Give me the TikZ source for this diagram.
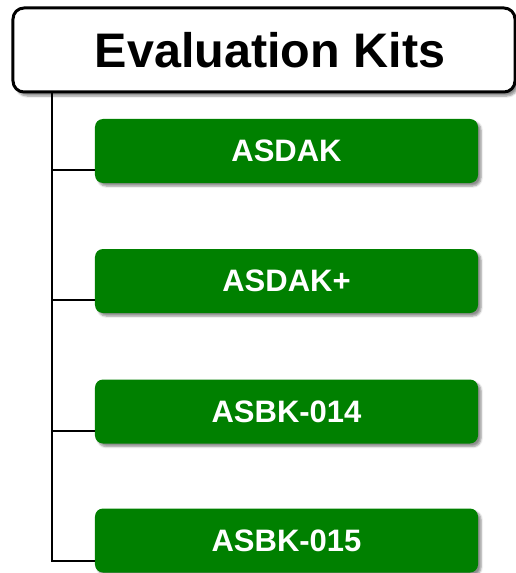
\documentclass[tikz,border=0pt]{standalone}
\usepackage{fontspec}
\setmainfont{Liberation Sans}
\usetikzlibrary{shadows.blur}
\definecolor{kitgreen}{RGB}{0,128,0}
\begin{document}
\begin{tikzpicture}[x=1bp,y=-1bp,
  titlebox/.style={draw=black,line width=3bp,fill=white,rounded corners=11bp,
    minimum width=502bp,minimum height=84bp,inner sep=0pt,
    font=\fontsize{48.5bp}{52bp}\selectfont\bfseries,
    blur shadow={shadow xshift=3bp,shadow yshift=-4bp,shadow blur steps=6,shadow opacity=45}},
  kitbox/.style={fill=kitgreen,draw=none,rounded corners=8bp,
    minimum width=383bp,minimum height=64bp,inner sep=0pt,text=white,
    font=\fontsize{31bp}{34bp}\selectfont\bfseries,
    blur shadow={shadow xshift=3bp,shadow yshift=-3bp,shadow blur steps=5,shadow opacity=45}},
  conn/.style={draw=black,line width=2bp}]
\useasboundingbox (0,0) rectangle (516,573);
\node[titlebox] (top) at (264,50) {\hspace*{12bp}Evaluation Kits};
\node[kitbox] (b1) at (286.5,151) {ASDAK};
\node[kitbox] (b2) at (286.5,281) {ASDAK+};
\node[kitbox] (b3) at (286.5,411.5) {ASBK-014};
\node[kitbox] (b4) at (286.5,540.5) {ASBK-015};
\coordinate (t0) at ([xshift=41bp,yshift=1.5bp]top.south west);
\coordinate (j1) at ([yshift=13bp]b1.south west);
\coordinate (j2) at ([yshift=13bp]b2.south west);
\coordinate (j3) at ([yshift=13bp]b3.south west);
\coordinate (j4) at ([yshift=12bp]b4.south west);
\draw[conn] (t0) |- (j4);
\draw[conn] (t0 |- j1) -- (j1);
\draw[conn] (t0 |- j2) -- (j2);
\draw[conn] (t0 |- j3) -- (j3);
\end{tikzpicture}
\end{document}
